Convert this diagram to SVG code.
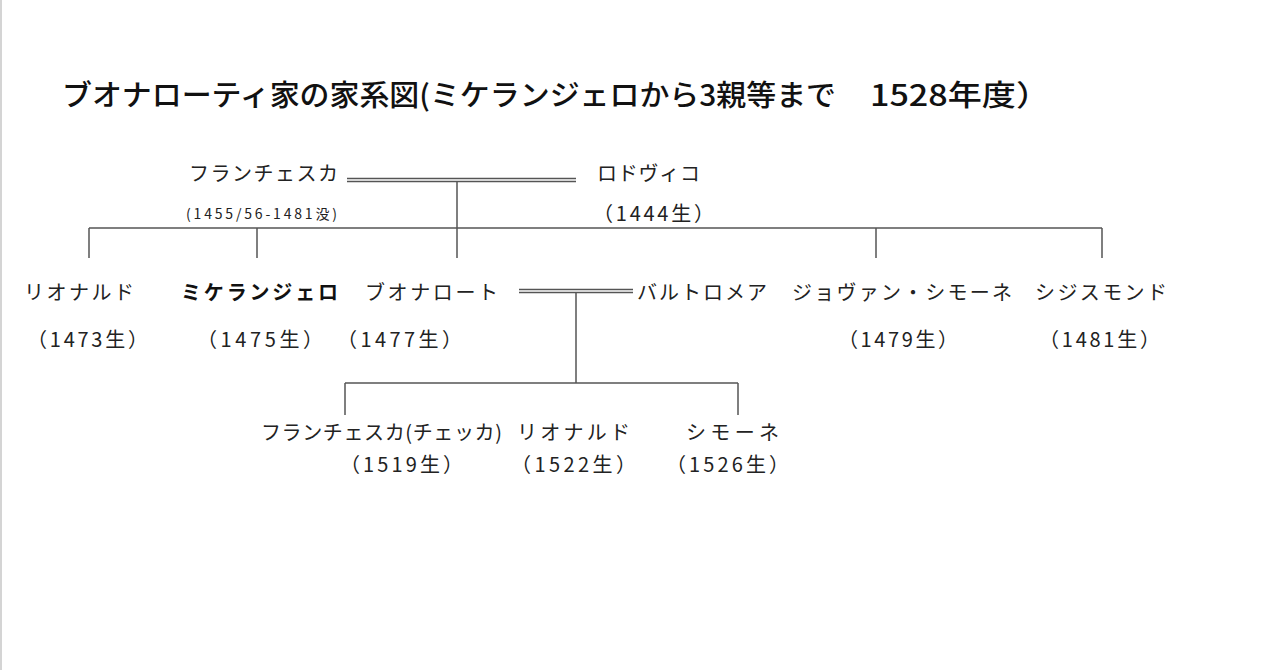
<svg xmlns="http://www.w3.org/2000/svg" width="1280" height="670" viewBox="0 0 1280 670">
<style>
text{font-family:"Noto Sans CJK JP","Noto Sans",sans-serif;fill:#222;font-size:20px}
.t{font-size:29px;font-weight:500;fill:#111}
.s{font-size:14px}
.b{font-weight:bold;fill:#111}
.ln{stroke:#555;stroke-width:1.5;fill:none}
</style>
<rect width="1280" height="670" fill="#fff"/>
<line x1="1" y1="0" x2="1" y2="670" stroke="#d4d4d4" stroke-width="2"/>
<g id="title"><text class="t" x="62" y="106" textLength="774" lengthAdjust="spacingAndGlyphs">ブオナローティ家の家系図(ミケランジェロから3親等まで</text><text class="t" x="870" y="106" textLength="180" lengthAdjust="spacingAndGlyphs">1528年度）</text></g>
<g id="connectors">
<path class="ln" d="M347 178.5H576M347 181.5H576"/>
<path class="ln" d="M457 181.5V258M89 228H1102M89 228V258M257 228V258M876 228V258M1102 228V258"/>
<path class="ln" d="M519 289.5H633M519 292.5H633"/>
<path class="ln" d="M576 292.5V383M345 383H738M345 383V415M738 383V415"/>
</g>
<g id="francesca"><text x="189" y="181" textLength="149">フランチェスカ</text><text class="s" x="186" y="219" textLength="151">(1455/56-1481没)</text></g>
<g id="lodovico"><text x="597" y="181" textLength="103">ロドヴィコ</text><text x="593" y="221" textLength="121">（1444生）</text></g>
<g id="leonardo"><text x="24" y="300" textLength="110">リオナルド</text><text x="27" y="347" textLength="121">（1473生）</text></g>
<g id="michelangelo"><text class="b" x="181" y="300" textLength="157">ミケランジェロ</text><text x="197" y="347" textLength="126">（1475生）</text></g>
<g id="buonarroto"><text x="365" y="300" textLength="133">ブオナロート</text><text x="337" y="347" textLength="125">（1477生）</text></g>
<g id="bartolomea"><text x="637" y="300" textLength="130">バルトロメア</text></g>
<g id="giovansimone"><text x="792" y="300" textLength="220">ジョヴァン・シモーネ</text><text x="838" y="347" textLength="120">（1479生）</text></g>
<g id="sigismondo"><text x="1035" y="300" textLength="132">シジスモンド</text><text x="1039" y="347" textLength="121">（1481生）</text></g>
<g id="cecca"><text x="261" y="440" textLength="241">フランチェスカ(チェッカ)</text><text x="340" y="472" textLength="123">（1519生）</text></g>
<g id="leonardo2"><text x="517" y="440" textLength="113">リオナルド</text><text x="511" y="472" textLength="125">（1522生）</text></g>
<g id="simone"><text x="686" y="440" textLength="93">シモーネ</text><text x="666" y="472" textLength="123">（1526生）</text></g>
</svg>
